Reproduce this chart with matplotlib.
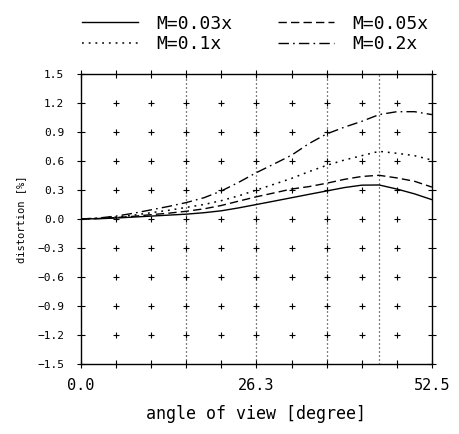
import matplotlib
matplotlib.use("Agg")
import matplotlib.pyplot as plt
import numpy as np

# ── Data ──────────────────────────────────────────────────────────────────────
angle = [0.0, 2.6, 5.25, 7.9, 10.5, 13.1, 15.75, 18.4, 21.0, 23.6, 26.25,
         28.9, 31.5, 34.1, 36.75, 39.4, 42.0, 44.6, 47.25, 49.9, 52.5]

dist_003 = [0.0, 0.003, 0.01, 0.02, 0.03, 0.04, 0.05, 0.065, 0.085, 0.115, 0.15,
            0.185, 0.22, 0.255, 0.29, 0.325, 0.35, 0.352, 0.31, 0.26, 0.20]
dist_005 = [0.0, 0.005, 0.015, 0.028, 0.045, 0.06, 0.08, 0.105, 0.14, 0.185, 0.23,
            0.27, 0.31, 0.335, 0.37, 0.41, 0.44, 0.452, 0.425, 0.39, 0.33]
dist_01 = [0.0, 0.007, 0.02, 0.04, 0.065, 0.09, 0.12, 0.15, 0.19, 0.24, 0.30,
           0.36, 0.42, 0.49, 0.555, 0.61, 0.655, 0.70, 0.68, 0.655, 0.61]
dist_02 = [0.0, 0.01, 0.03, 0.06, 0.095, 0.13, 0.17, 0.22, 0.29, 0.38, 0.48,
           0.57, 0.66, 0.78, 0.88, 0.95, 1.01, 1.08, 1.11, 1.11, 1.08]

labels = ["M=0.03x", "M=0.05x", "M=0.1x", "M=0.2x"]
markers_x = [15.75, 26.25, 36.75, 44.6]   # vertical reference lines

x_ticks = np.arange(0, 52.5 + 0.01, 5.25)
x_ticklabels = {0.0: "0.0", 26.25: "26.3", 52.5: "52.5"}
y_ticks = np.round(np.arange(-1.5, 1.5 + 0.01, 0.3), 1)

# ── Plot ──────────────────────────────────────────────────────────────────────
FONT = "DejaVu Sans Mono"
plt.rcParams["font.family"] = FONT

fig = plt.figure(figsize=(4.59, 4.34), dpi=100)
ax = fig.add_axes([0.1765, 0.1613, 0.7645, 0.6682])

# plus markers at every interior grid node
gx, gy = np.meshgrid(x_ticks[1:-1], y_ticks[1:-1])
ax.plot(gx.ravel(), gy.ravel(), linestyle="none", marker="+",
        markersize=5, markeredgewidth=0.8, color="black", zorder=1)

for xv in markers_x:
    ax.axvline(xv, color="black", linewidth=0.9, dashes=(0.8, 2.4), zorder=1)

l1, = ax.plot(angle, dist_003, color="black", linewidth=1.0, label=labels[0])
l2, = ax.plot(angle, dist_005, color="black", linewidth=1.0,
              dashes=(6, 3), label=labels[1])
l3, = ax.plot(angle, dist_01, color="black", linewidth=1.1,
              dashes=(1.2, 3.2), label=labels[2])
l4, = ax.plot(angle, dist_02, color="black", linewidth=1.0,
              dashes=(7.5, 3, 1.2, 3), label=labels[3])

ax.set_xlim(0, 52.5)
ax.set_ylim(-1.5, 1.5)
ax.set_xticks(x_ticks)
ax.set_xticklabels([x_ticklabels.get(round(t, 2), "") for t in x_ticks])
ax.set_yticks(y_ticks)
ax.set_yticklabels([f"{t:.1f}".replace("-", "\u2212") for t in y_ticks])

ax.tick_params(axis="both", direction="inout", length=6, width=0.8,
               top=True, right=True, color="black")
ax.tick_params(axis="x", labelsize=11, pad=7)
ax.tick_params(axis="y", labelsize=8, pad=9)
for s in ax.spines.values():
    s.set_linewidth(1.0)

ax.set_xlabel("angle of view [degree]", fontsize=12, labelpad=9)
ax.set_ylabel("distortion [%]", fontsize=7.5, labelpad=8)

fig.legend(handles=[l1, l3, l2, l4], labels=[labels[0], labels[2], labels[1], labels[3]],
           ncol=2, loc="center", bbox_to_anchor=(0.556, 1 - 34 / 434),
           frameon=False, fontsize=13, handlelength=3.1, handletextpad=1.0,
           columnspacing=2.55, labelspacing=0.15, borderpad=0)

fig.savefig("out.png", dpi=100, facecolor="white")
